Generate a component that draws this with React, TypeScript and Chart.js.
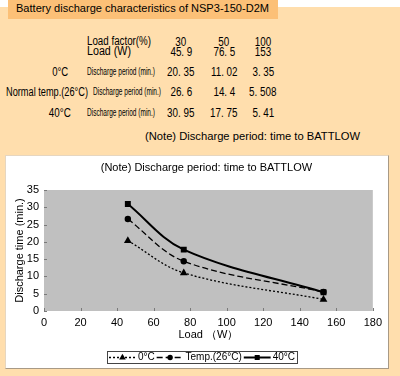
import React, { useEffect, useRef } from "react";
import { Chart, registerables } from "chart.js";
import { drawPoint } from "chart.js/helpers";

Chart.register(...registerables);

// ---- data ----
const pageTitle = "Battery discharge characteristics of NSP3-150-D2M";
const noteText = "(Note) Discharge period: time to BATTLOW";
const loadFactors = [30, 50, 100];
const loads = [45.9, 76.5, 153];
const temp0 = [20.35, 11.02, 3.35];
const tempNormal = [26.6, 14.4, 5.508];
const temp40 = [30.95, 17.75, 5.41];
const rowLabels = ["0°C", "Normal temp.(26°C)", "40°C"];
const seriesLabels = ["0°C", "Temp.(26°C)", "40°C"];
const xMin = 0;
const xMax = 180;
const xStep = 20;
const yMin = 0;
const yMax = 35;
const yStep = 5;
const xTitle = "Load （W）";
const yTitle = "Discharge time (min.)";

const SANS = '"Liberation Sans", Arial, sans-serif';
const NARROW = '"Liberation Sans Narrow", "Liberation Sans", Arial, sans-serif';

const mcanvas = typeof document !== "undefined" ? document.createElement("canvas") : null;
function measure(text: string, font: string): number {
  const ctx = mcanvas!.getContext("2d")!;
  ctx.font = font;
  return ctx.measureText(text).width;
}

const fmt = (v: number) => String(v).replace(".", ". ");

type TProps = {
  x: number;
  cy: number;
  text: string;
  size?: number;
  w?: number;
  scale?: number;
  align?: "left" | "center" | "right";
  family?: string;
};

function T({ x, cy, text, size = 12, w, scale, align = "left", family = SANS }: TProps) {
  const natural = measure(text, `${size}px ${family}`);
  const s = w ? w / natural : scale ?? 1;
  const left = align === "left" ? x : align === "center" ? x - natural / 2 : x - natural;
  return (
    <div
      style={{
        position: "absolute",
        left,
        top: cy - 0.49 * size,
        fontSize: size,
        lineHeight: size + "px",
        fontFamily: family,
        whiteSpace: "nowrap",
        color: "#000",
        transform: `scaleX(${s})`,
        transformOrigin: align === "left" ? "left center" : align === "center" ? "center center" : "right center",
      }}
    >
      {text}
    </div>
  );
}

const seriesStyle = [
  { dash: [2, 2], width: 1.3, point: "triangle", radius: 4.5 },
  { dash: [6, 3], width: 1.3, point: "circle", radius: 3.2 },
  { dash: [], width: 2, point: "rect", radius: 4.2 },
];

function ChartCanvas() {
  const ref = useRef<HTMLCanvasElement | null>(null);
  useEffect(() => {
    const series = [temp0, tempNormal, temp40];
    const plotBg = {
      id: "plotBg",
      beforeDraw(chart: any) {
        const { ctx, chartArea } = chart;
        ctx.save();
        ctx.fillStyle = "#C0C0C0";
        ctx.fillRect(chartArea.left, chartArea.top, chartArea.right - chartArea.left, chartArea.bottom - chartArea.top);
        ctx.restore();
      },
      beforeDatasetsDraw(chart: any) {
        const { ctx, chartArea, scales } = chart;
        ctx.save();
        ctx.strokeStyle = "#7a7a7a";
        ctx.lineWidth = 1;
        scales.x.ticks.forEach((t: any) => {
          const px = Math.round(scales.x.getPixelForValue(t.value)) + 0.5;
          ctx.beginPath();
          ctx.moveTo(px, chartArea.bottom);
          ctx.lineTo(px, chartArea.bottom - 3);
          ctx.stroke();
        });
        scales.y.ticks.forEach((t: any) => {
          const py = Math.round(scales.y.getPixelForValue(t.value)) + 0.5;
          ctx.beginPath();
          ctx.moveTo(chartArea.left, py);
          ctx.lineTo(chartArea.left + 3, py);
          ctx.stroke();
        });
        ctx.restore();
      },
      afterDraw(chart: any) {
        const { ctx, chartArea } = chart;
        ctx.save();
        // title
        ctx.fillStyle = "#000";
        ctx.font = `11px ${SANS}`;
        ctx.textAlign = "center";
        ctx.textBaseline = "middle";
        ctx.fillText(noteText, (chartArea.left + chartArea.right) / 2 - 2, 11);
        // legend
        ctx.font = `10px ${NARROW}`;
        const targetW = 190;
        const textGap = 2;
        const itemGap = 2;
        const padX = 2;
        const widths = seriesLabels.map((l) => ctx.measureText(l).width);
        const textSum = widths.reduce((a, b) => a + b, 0);
        const n = seriesLabels.length;
        const sampleW = Math.max(18, (targetW - textSum - textGap * n - itemGap * (n - 1) - padX * 2) / n);
        const total = textSum + (sampleW + textGap) * n + itemGap * (n - 1) + padX * 2;
        const cx = (chartArea.left + chartArea.right) / 2 - 6.5;
        const x0 = Math.round(cx - total / 2);
        const top = 194;
        const h = 12;
        const cy = top + h / 2 + 0.5;
        ctx.strokeStyle = "#444";
        ctx.lineWidth = 1;
        ctx.setLineDash([]);
        ctx.strokeRect(x0 + 0.5, top + 0.5, Math.round(total), h);
        let x = x0 + padX;
        seriesLabels.forEach((l, i) => {
          const st = seriesStyle[i];
          ctx.save();
          ctx.strokeStyle = "#000";
          ctx.lineWidth = st.width;
          ctx.setLineDash(st.dash);
          ctx.beginPath();
          ctx.moveTo(x, cy);
          ctx.lineTo(x + sampleW, cy);
          ctx.stroke();
          ctx.setLineDash([]);
          ctx.fillStyle = "#000";
          drawPoint(ctx, { pointStyle: st.point as any, radius: st.radius * 0.85, rotation: 0, borderWidth: 0 }, x + sampleW / 2, cy);
          ctx.restore();
          ctx.fillStyle = "#000";
          ctx.textAlign = "left";
          ctx.textBaseline = "middle";
          ctx.fillText(l, x + sampleW + textGap, cy);
          x += sampleW + textGap + widths[i] + itemGap;
        });
        ctx.restore();
      },
    };

    const chart = new Chart(ref.current!, {
      type: "line",
      data: {
        datasets: series.map((vals, i) => ({
          label: seriesLabels[i],
          data: loads.map((x, j) => ({ x, y: vals[j] })),
          borderColor: "#000",
          backgroundColor: "#000",
          borderWidth: seriesStyle[i].width,
          borderDash: seriesStyle[i].dash,
          pointStyle: seriesStyle[i].point as any,
          pointRadius: seriesStyle[i].radius,
          pointBorderWidth: 0,
          pointBackgroundColor: "#000",
          tension: 0.35,
          fill: false,
        })),
      },
      options: {
        animation: false,
        responsive: false,
        layout: { padding: { left: 0, right: 14, top: 33, bottom: 25 } },
        plugins: { legend: { display: false }, title: { display: false }, tooltip: { enabled: false } },
        scales: {
          x: {
            type: "linear",
            min: xMin,
            max: xMax,
            ticks: { stepSize: xStep, color: "#000", font: { size: 11, family: NARROW }, padding: 5, maxRotation: 0 },
            grid: { display: false, drawTicks: false },
            border: { display: false },
            title: {
              display: true,
              text: xTitle,
              color: "#000",
              font: { size: 11, family: NARROW },
              padding: { top: 0, bottom: 0 },
            },
            afterFit: (s: any) => {
              s.height = 31;
            },
          },
          y: {
            type: "linear",
            min: yMin,
            max: yMax,
            ticks: { stepSize: yStep, color: "#000", font: { size: 11, family: NARROW }, padding: 5 },
            grid: { display: false, drawTicks: false },
            border: { display: false },
            title: {
              display: true,
              text: yTitle,
              color: "#000",
              font: { size: 11, family: NARROW },
              padding: { top: 7, bottom: 0 },
            },
            afterFit: (s: any) => {
              s.width = 38;
            },
          },
        },
      },
      plugins: [plotBg],
    });
    return () => chart.destroy();
  }, []);
  return <canvas ref={ref} width={381} height={210} style={{ position: "absolute", left: 6, top: 157, width: 381, height: 210 }} />;
}

export default function App() {
  const colX = [181, 224, 263];
  const rowY = [72, 92, 113];
  const labelSpecs = [
    { x: 68, w: 16, align: "right" as const, dx: 87 },
    { x: 6, w: 82, align: "left" as const, dx: 93 },
    { x: 71, w: 22, align: "right" as const, dx: 87 },
  ];
  const seriesVals = [temp0, tempNormal, temp40];
  return (
    <div
      style={{
        position: "absolute",
        left: 0,
        top: 0,
        width: 400,
        height: 376,
        background: "#fff",
        overflow: "hidden",
        fontFamily: SANS,
      }}
    >
      <div style={{ position: "absolute", left: 0, top: 7, width: 400, height: 369, background: "#FFDEAD" }} />
      <div style={{ position: "absolute", left: 8, top: 0, width: 270, height: 19, background: "#FCC077" }} />
      <T x={16} cy={8.5} text={pageTitle} size={11} w={253} />

      <T x={87} cy={41} text="Load factor(%)" size={12} w={64} />
      <T x={87} cy={51} text="Load (W)" size={12} w={44} />
      {loadFactors.map((v, i) => (
        <T key={"lf" + i} x={colX[i]} cy={41.5} text={String(v)} size={12} scale={0.82} align="center" />
      ))}
      {loads.map((v, i) => (
        <T key={"ld" + i} x={colX[i]} cy={51.5} text={fmt(v)} size={12} scale={0.82} align="center" />
      ))}
      {rowLabels.map((l, r) => (
        <React.Fragment key={"row" + r}>
          <T x={labelSpecs[r].x} cy={rowY[r]} text={l} size={12} w={labelSpecs[r].w} align={labelSpecs[r].align} />
          <T x={labelSpecs[r].dx} cy={rowY[r]} text="Discharge period (min.)" size={10} w={68} />
          {seriesVals[r].map((v, i) => (
            <T key={"v" + i} x={colX[i]} cy={rowY[r]} text={fmt(v)} size={12} scale={0.82} align="center" />
          ))}
        </React.Fragment>
      ))}
      <T x={145} cy={136} text={noteText} size={11} w={215} />

      <div
        style={{
          position: "absolute",
          left: 5,
          top: 155,
          width: 382,
          height: 212,
          background: "#fff",
          borderTop: "1px solid #E6D6C0",
          borderLeft: "1px solid #E6D6C0",
          borderRight: "1px solid #A89A86",
          borderBottom: "1px solid #A89A86",
        }}
      />
      <ChartCanvas />
    </div>
  );
}
